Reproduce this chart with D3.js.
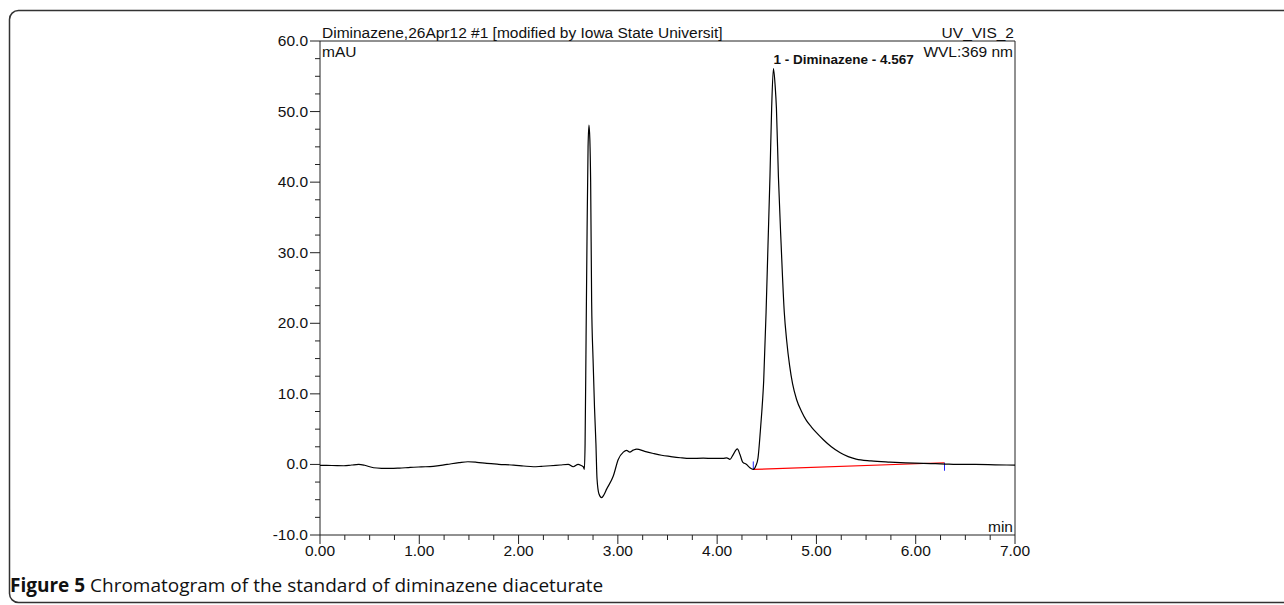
<!DOCTYPE html>
<meta charset="utf-8">
<style>
body { margin: 0; background: #fff; }
svg text { font-family: "Liberation Sans", Arial, sans-serif; fill: #111; }
.tick-label { font-size: 15.5px; }
.caption { font-family: "Open Sans", "Noto Sans", sans-serif; font-size: 19px; }
</style>
<svg width="1284" height="605"></svg>
<script src="https://d3js.org/d3.v7.min.js"></script>
<script>

// chromatogram trace (min, mAU)
var times = [0.00, 0.12, 0.24, 0.32, 0.39, 0.45, 0.54, 0.62, 0.71, 0.80, 0.91, 1.02, 1.14, 1.28, 1.40, 1.49, 1.58, 1.68, 1.80, 1.95,
  2.05, 2.15, 2.23, 2.32, 2.42, 2.50, 2.55, 2.60, 2.63, 2.652, 2.663, 2.670, 2.680, 2.690, 2.700, 2.709, 2.718, 2.726, 2.736, 2.750,
  2.765, 2.779, 2.790, 2.810, 2.836, 2.860, 2.887, 2.954, 3.004, 3.055, 3.088, 3.120, 3.155, 3.190, 3.270, 3.357, 3.440, 3.525, 3.63, 3.726,
  3.86, 3.96, 4.06, 4.096, 4.129, 4.162, 4.203, 4.230, 4.257, 4.297, 4.330, 4.364, 4.390, 4.411, 4.435, 4.450, 4.469, 4.493, 4.512, 4.532,
  4.549, 4.567, 4.585, 4.597, 4.617, 4.645, 4.676, 4.70, 4.73, 4.76, 4.80, 4.85, 4.90, 4.95, 5.00, 5.07, 5.15, 5.24, 5.32, 5.40,
  5.55, 5.74, 5.90, 6.08, 6.20, 6.30, 6.41, 6.60, 6.80, 7.00];
var signal = [-0.14, -0.15, -0.19, -0.08, 0.0, -0.12, -0.47, -0.55, -0.57, -0.52, -0.42, -0.35, -0.28, 0.0, 0.25, 0.38, 0.30, 0.14, 0.02, -0.09,
  -0.22, -0.33, -0.27, -0.19, -0.08, 0.0, -0.33, 0.0, -0.15, -0.33, -0.7, 3.0, 18.0, 33.0, 45.0, 48.1, 46.0, 40.0, 23.0, 15.0,
  8.0, 3.0, -2.0, -4.2, -4.7, -4.3, -3.5, -1.65, 0.7, 1.74, 1.98, 1.74, 2.02, 2.17, 1.85, 1.55, 1.3, 1.13, 0.95, 0.85,
  0.89, 0.85, 0.85, 0.94, 0.71, 1.4, 2.2, 1.4, 0.33, 0.0, -0.47, -0.71, -0.2, 0.85, 4.7, 7.5, 11.9, 21.6, 31.0, 40.8,
  50.5, 56.1, 53.5, 50.5, 40.8, 31.0, 21.6, 17.6, 14.0, 11.4, 9.2, 7.5, 6.2, 5.3, 4.5, 3.5, 2.5, 1.65, 1.1, 0.75,
  0.5, 0.33, 0.22, 0.14, 0.10, 0.05, 0.0, 0.0, -0.05, -0.1];

// integration baseline of peak 1
var baseTimes = [4.364, 6.29];
var baseValues = [-0.71, 0.24];

var xTicks = [0, 1, 2, 3, 4, 5, 6, 7];
var yTicks = [-10, 0, 10, 20, 30, 40, 50, 60];

var svg = d3.select("svg");

// outer figure frame
svg.append("rect")
    .attr("x", 9.5).attr("y", 10.5)
    .attr("width", 1320).attr("height", 592)
    .attr("rx", 9).attr("ry", 9)
    .attr("fill", "none").attr("stroke", "#333").attr("stroke-width", 1.5);

var x = d3.scaleLinear().domain([0, 7]).range([320, 1015]),
    y = d3.scaleLinear().domain([-10, 60]).range([535, 41]);

var g = svg.append("g");

// minor ticks
g.append("g").selectAll("line")
  .data(d3.range(-10, 60.01, 2.5))
  .enter().append("line")
    .attr("x1", function(d) { return d % 10 === 0 ? 310 : 315; })
    .attr("x2", 320)
    .attr("y1", function(d) { return y(d); })
    .attr("y2", function(d) { return y(d); })
    .attr("stroke", "#222");

g.append("g").selectAll("line")
  .data(d3.range(0, 7.001, 0.25))
  .enter().append("line")
    .attr("y1", 535)
    .attr("y2", function(d) { return Math.abs(d - Math.round(d)) < 1e-6 ? 544 : 540; })
    .attr("x1", function(d) { return x(d); })
    .attr("x2", function(d) { return x(d); })
    .attr("stroke", "#222");

g.selectAll(".ylab")
  .data(yTicks)
  .enter().append("text")
    .attr("class", "tick-label")
    .attr("x", 308)
    .attr("y", function(d) { return y(d) + 5; })
    .attr("text-anchor", "end")
    .text(function(d) { return d.toFixed(1); });

g.selectAll(".xlab")
  .data(xTicks)
  .enter().append("text")
    .attr("class", "tick-label")
    .attr("x", function(d) { return x(d); })
    .attr("y", 556)
    .attr("text-anchor", "middle")
    .text(function(d) { return d.toFixed(2); });

// plot frame
g.append("path")
    .attr("d", "M320,41V535H1015V41H320")
    .attr("fill", "none").attr("stroke", "#222").attr("stroke-width", 1);

// baseline + markers
g.append("line")
    .attr("x1", x(baseTimes[0])).attr("y1", y(baseValues[0]))
    .attr("x2", x(baseTimes[1])).attr("y2", y(baseValues[1]))
    .attr("stroke", "#f00").attr("stroke-width", 1.2);
g.append("line")
    .attr("x1", x(baseTimes[0])).attr("x2", x(baseTimes[0]))
    .attr("y1", y(baseValues[0]) - 8).attr("y2", y(baseValues[0]))
    .attr("stroke", "#22f");
g.append("line")
    .attr("x1", x(baseTimes[1])).attr("x2", x(baseTimes[1]))
    .attr("y1", y(baseValues[1])).attr("y2", y(baseValues[1]) + 8)
    .attr("stroke", "#22f");

var line = d3.line()
    .x(function(d, i) { return x(times[i]); })
    .y(function(d) { return y(d); })
    .curve(d3.curveMonotoneX);

g.append("path")
    .datum(signal)
    .attr("d", line)
    .attr("fill", "none")
    .attr("stroke", "#000")
    .attr("stroke-width", 1.2);

// header texts
g.append("text").attr("x", 322).attr("y", 38).attr("font-size", 15.5)
    .text("Diminazene,26Apr12 #1 [modified by Iowa State Universit]");
g.append("text").attr("x", 322).attr("y", 57).attr("font-size", 15.5).text("mAU");
g.append("text").attr("x", 1014).attr("y", 38).attr("font-size", 15.5)
    .attr("text-anchor", "end").text("UV_VIS_2");
g.append("text").attr("x", 1013).attr("y", 57).attr("font-size", 15.5)
    .attr("text-anchor", "end").text("WVL:369 nm");
g.append("text").attr("x", 1013).attr("y", 532).attr("font-size", 15.5)
    .attr("text-anchor", "end").text("min");
g.append("text").attr("x", x(4.567)).attr("y", 64).attr("font-size", 13.5)
    .attr("font-weight", "bold").text("1 - Diminazene - 4.567");

// caption
var cap = svg.append("text").attr("class", "caption").attr("x", 10).attr("y", 592);
cap.append("tspan").attr("font-weight", "bold").text("Figure 5");
cap.append("tspan").text(" Chromatogram of the standard of diminazene diaceturate");

</script>
